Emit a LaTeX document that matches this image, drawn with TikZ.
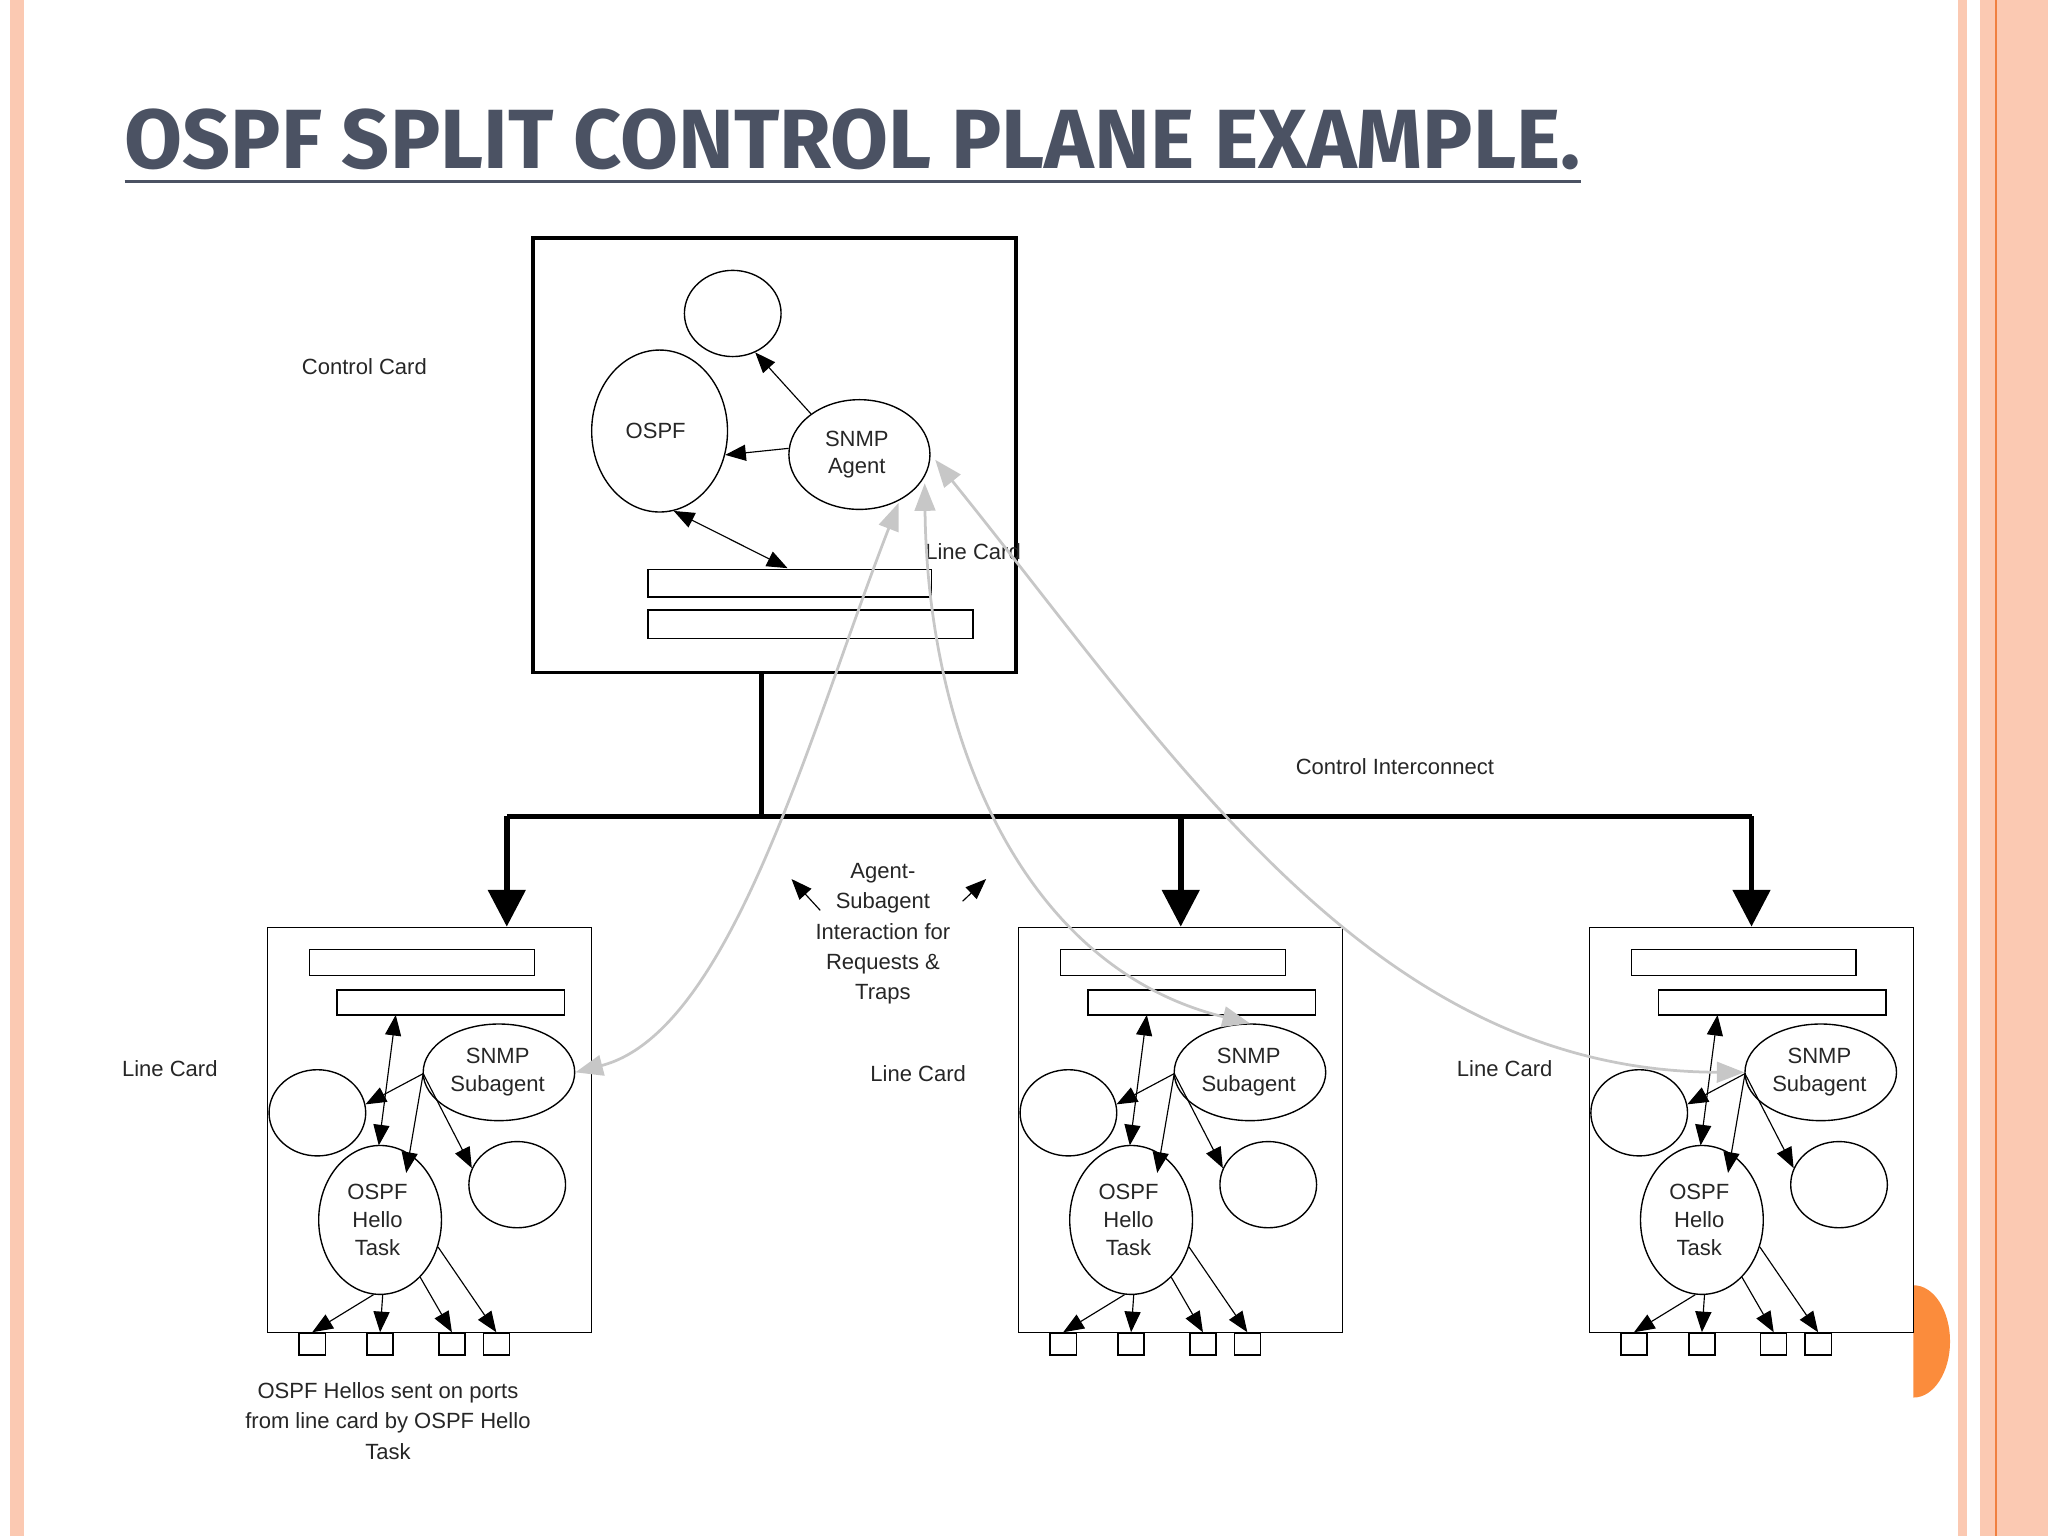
\documentclass[tikz,border=0pt]{standalone}
\usepackage{fontspec}
\setmainfont{Liberation Sans}
\newfontfamily\titlefont{Fira Sans}
\usetikzlibrary{arrows.meta,shapes.geometric}
\definecolor{peach}{HTML}{FBC9B2}
\definecolor{orangeline}{HTML}{F08040}
\definecolor{dot}{HTML}{FB8C3C}
\definecolor{titlec}{HTML}{4B5263}
\begin{document}
\begin{tikzpicture}[x=0.02cm,y=-0.02cm,
  lbl/.style={font=\fontsize{9.6}{12}\selectfont,align=center,text=black!85},
  el/.style={draw,ellipse,inner sep=0pt,line width=0.6pt},
  bar/.style={draw,line width=0.6pt},
  ar/.style={-{Triangle[length=9pt,width=7pt]},line width=0.5pt},
  dar/.style={{Triangle[length=9pt,width=7pt]}-{Triangle[length=9pt,width=7pt]},line width=0.5pt},
  gar/.style={{Triangle[length=12pt,width=9pt]}-{Triangle[length=12pt,width=9pt]},draw=black!22,line width=1.2pt},
  bus/.style={line width=2.4pt},
  drop/.style={bus,-{Triangle[length=16pt,width=16pt]}}]
\useasboundingbox (0,0) rectangle (1568,1176);
% borders
\fill[peach] (8,0) rectangle (18,1176);
\fill[peach] (1499,0) rectangle (1506,1176);
\fill[peach] (1516,0) rectangle (1568,1176);
\draw[orangeline,line width=0.8pt] (1528,0) -- (1528,1176);
\begin{scope}
\clip (1465,950) rectangle (1515,1100);
\fill[dot] (1465,1027) ellipse[x radius=0.56cm,y radius=0.86cm];
\end{scope}
% title
\node[anchor=south west,inner sep=0pt,text=titlec] (title) at (95,143)
  {\resizebox{22.3cm}{!}{\titlefont\bfseries\underline{OSPF SPLIT CONTROL PLANE EXAMPLE.}}};
% control card
\node[draw,line width=1.6pt,minimum width=7.4cm,minimum height=6.66cm,inner sep=0pt] (cc) at (593,348.5) {};
\node[el,minimum width=74*0.02cm,minimum height=66*0.02cm] (top) at (561,240) {};
\node[el,minimum width=104*0.02cm,minimum height=124*0.02cm,lbl] (ospf) at (505,330) {};
\node[lbl] at (502,330) {OSPF};
\node[el,minimum width=108*0.02cm,minimum height=84*0.02cm] (agent) at (658,348) {};
\node[lbl] at (656,348) {SNMP\\Agent};
\node[bar,minimum width=217*0.02cm,minimum height=21*0.02cm,inner sep=0pt] (cr1) at (604.5,446.5) {};
\node[bar,minimum width=249*0.02cm,minimum height=22*0.02cm,inner sep=0pt] (cr2) at (620.5,478) {};
\draw[ar] (agent.140) -- (top.300);
\draw[ar] (agent.175) -- (ospf.-20);
\draw[dar] (ospf.-80) -- (603,435);
\node[lbl] (cclbl) at (279,281) {Control Card};
\node[lbl] (lclbl0) at (745,422) {Line Card};
% interconnect
\coordinate (j) at (583,625);
\coordinate (bl) at (388,625);
\coordinate (br) at (1341,625);
\draw[bus] (583,515) -- (j);
\draw[bus] (bl) -- (br);
\node[lbl] (cilbl) at (1068,587) {Control Interconnect};
% line cards
\foreach \dx/\n in {0/a,575/b,1012/c}{
\begin{scope}[shift={(\dx,0)}]
\node[draw,line width=0.6pt,minimum width=248*0.02cm,minimum height=310*0.02cm,inner sep=0pt] (lc\n) at (329,865) {};
\node[bar,minimum width=172*0.02cm,minimum height=20*0.02cm,inner sep=0pt] (r1\n) at (323,737) {};
\node[bar,minimum width=174*0.02cm,minimum height=19*0.02cm,inner sep=0pt] (r2\n) at (345,767.5) {};
\node[el,minimum width=116*0.02cm,minimum height=74*0.02cm] (sub\n) at (382,821) {};
\node[lbl] at (381,821) {SNMP\\Subagent};
\node[el,minimum width=74*0.02cm,minimum height=66*0.02cm] (lcir\n) at (243,852) {};
\node[el,minimum width=74*0.02cm,minimum height=66*0.02cm] (rcir\n) at (396,907) {};
\node[el,minimum width=94*0.02cm,minimum height=114*0.02cm] (hello\n) at (291,934) {};
\node[lbl] at (289,934) {OSPF\\Hello\\Task};
\foreach \px/\k in {239/1,291/2,346/3,380/4}{
  \node[bar,minimum width=20*0.02cm,minimum height=17*0.02cm,inner sep=0pt,anchor=north] (p\n\k) at (\px,1020) {};
}
\draw[dar] (303,777) -- (290,877);
\coordinate (s\n) at (324,822);
\draw[ar] (s\n) -- (lcir\n.10);
\draw[ar] (s\n) -- (311,898);
\draw[ar] (s\n) -- (rcir\n.160);
\draw[ar] (hello\n.-95) -- (p\n1.north);
\draw[ar] (hello\n.-88) -- (p\n2.north);
\draw[ar] (hello\n.-55) -- (p\n3.north);
\draw[ar] (hello\n.-25) -- (p\n4.north);
\end{scope}}
\draw[drop] (bl) -- (lca.north -| bl);
\draw[drop] (904,625) -- (lcb.north -| 904,0);
\draw[drop] (br) -- (lcc.north -| br);
\node[lbl] (la) at (130,818) {Line Card};
\node[lbl] (lb) at (703,822) {Line Card};
\node[lbl] (lc) at (1152,818) {Line Card};
\node[lbl,font=\fontsize{9.6}{13.2}\selectfont] (ports) at (297,1088) {OSPF Hellos sent on ports\\from line card by OSPF Hello\\Task};
\node[lbl,font=\fontsize{9.6}{13.2}\selectfont] (inter) at (676,715) {Agent-\\Subagent\\Interaction for\\Requests \&\\Traps};
\draw[ar] (628,697) -- (606,673);
\draw[ar] (737,690) -- (755,673);
% gray agent-subagent curves
\draw[gar] (suba.east) .. controls (560,790) and (620,560) .. (688,385);
\draw[gar] (subb.north) .. controls (780,740) and (710,560) .. (708,370);
\draw[gar] (subc.west) .. controls (1050,820) and (900,580) .. (716,352);
\end{tikzpicture}
\end{document}
